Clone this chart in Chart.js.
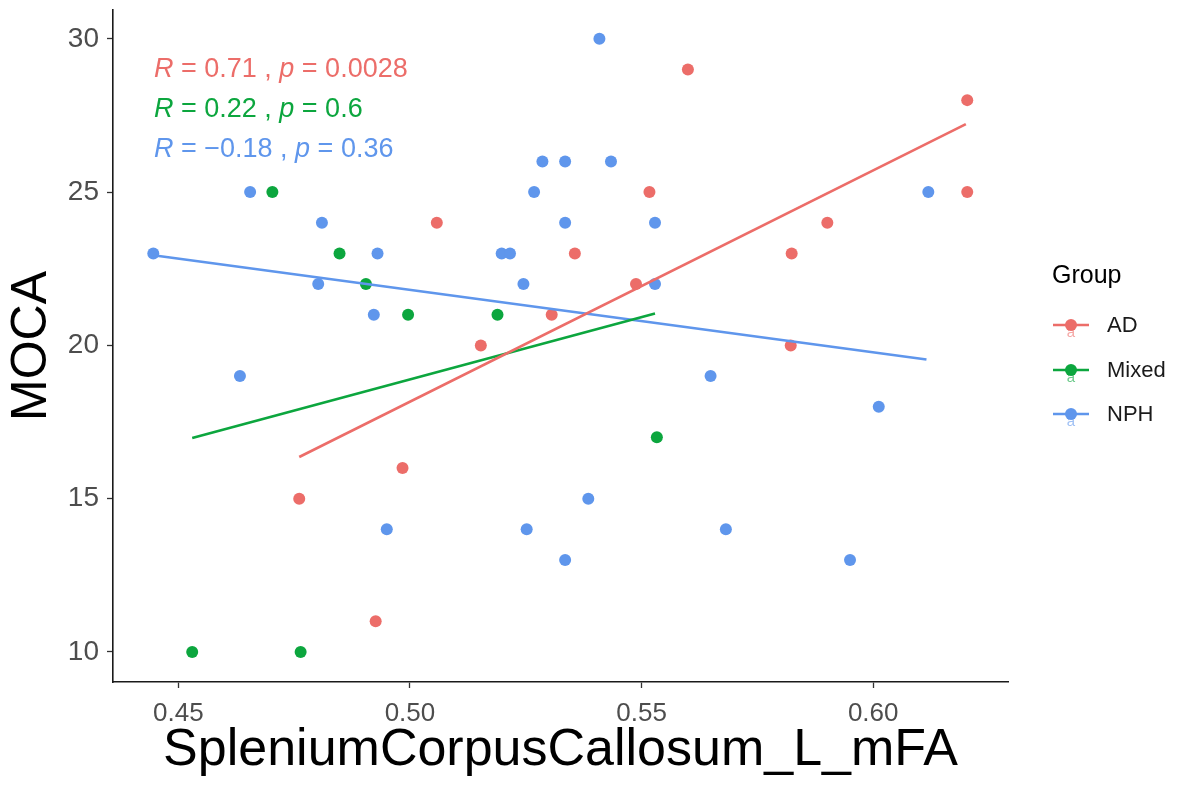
<!DOCTYPE html>
<html>
<head>
<meta charset="utf-8">
<script src="https://cdn.jsdelivr.net/npm/chart.js@4.4.1/dist/chart.umd.min.js"></script>
<style>
  body { margin: 0; background: #fff; }
  #wrap { width: 1177px; height: 788px; }
</style>
</head>
<body>
<div id="wrap"><canvas id="chart" width="1177" height="788"></canvas></div>
<script>
// MOCA score vs left splenium mFA, by diagnostic group
const groups = ["AD", "Mixed", "NPH"];
const groupColors = ["#EC6D69", "#0CA63E", "#5F96EC"];

const adX = [0.5058, 0.5306, 0.5153, 0.5600, 0.6203, 0.5517, 0.5356, 0.5488, 0.5824, 0.5901, 0.6203, 0.5822, 0.4984, 0.4761, 0.4926];
const adY = [24, 21, 20, 29, 28, 25, 23, 22, 23, 24, 25, 20, 16, 15, 11];

const mixedX = [0.4703, 0.4848, 0.4905, 0.4996, 0.5189, 0.5533, 0.4530, 0.4764];
const mixedY = [25, 23, 22, 21, 21, 17, 10, 10];

const nphX = [0.4446, 0.4655, 0.4810, 0.4930, 0.4802, 0.4922, 0.5198, 0.5216, 0.5245, 0.5268, 0.5286, 0.5335, 0.5434, 0.5409,
              0.5335, 0.5529, 0.5529, 0.6119, 0.4633, 0.4950, 0.5252, 0.5649, 0.6012, 0.5385, 0.5682, 0.5335, 0.5950];
const nphY = [23, 25, 24, 23, 22, 21, 23, 23, 22, 25, 26, 26, 26, 30,
              24, 24, 22, 25, 19, 14, 14, 19, 18, 15, 14, 13, 13];

// fitted lines (start / end of each group's lm fit)
const adFitX = [0.4761, 0.6200];
const adFitY = [16.36, 27.22];
const mixedFitX = [0.4530, 0.5529];
const mixedFitY = [16.98, 21.04];
const nphFitX = [0.4446, 0.6115];
const nphFitY = [22.94, 19.54];

const corrLabels = [
    ["0.71", "0.0028"],
    ["0.22", "0.6"],
    ["\u22120.18", "0.36"],
];

const xTicks = [0.45, 0.50, 0.55, 0.60];
const yTicks = [10, 15, 20, 25, 30];

const FONT = "'Liberation Sans', Arial, sans-serif";

function pts(xs, ys) {
    return xs.map((x, i) => ({ x: x, y: ys[i] }));
}

function scatterSet(label, xs, ys, color) {
    return {
        type: "scatter",
        label: label,
        data: pts(xs, ys),
        backgroundColor: color,
        borderColor: color,
        pointRadius: 6,
        pointBorderWidth: 0,
        order: 2,
    };
}

function fitSet(label, xs, ys, color) {
    return {
        type: "line",
        label: label + " fit",
        data: pts(xs, ys),
        borderColor: color,
        borderWidth: 2.6,
        pointRadius: 0,
        fill: false,
        order: 1,
    };
}

// R / p text in the top-left corner
const corrPlugin = {
    id: "corrText",
    afterDatasetsDraw(chart) {
        const ctx = chart.ctx;
        const x0 = 154;
        const baselines = [77, 117, 157];
        ctx.save();
        ctx.textBaseline = "alphabetic";
        corrLabels.forEach((lab, i) => {
            const parts = [
                ["R", true], [" = " + lab[0] + " , ", false],
                ["p", true], [" = " + lab[1], false],
            ];
            let x = x0;
            ctx.fillStyle = groupColors[i];
            parts.forEach(([t, it]) => {
                ctx.font = (it ? "italic " : "") + "27px " + FONT;
                ctx.fillText(t, x, baselines[i]);
                x += ctx.measureText(t).width;
            });
        });
        ctx.restore();
    },
};

// ggplot-style legend on the right
const legendPlugin = {
    id: "groupLegend",
    afterDraw(chart) {
        const ctx = chart.ctx;
        ctx.save();
        ctx.fillStyle = "#000";
        ctx.font = "25px " + FONT;
        ctx.textBaseline = "middle";
        ctx.fillText("Group", 1052, 276);
        const rows = [325, 370, 414];
        groups.forEach((g, i) => {
            const y = rows[i];
            const c = groupColors[i];
            ctx.strokeStyle = c;
            ctx.lineWidth = 2.6;
            ctx.beginPath();
            ctx.moveTo(1053, y);
            ctx.lineTo(1089, y);
            ctx.stroke();
            ctx.fillStyle = c;
            ctx.beginPath();
            ctx.arc(1071, y, 6, 0, Math.PI * 2);
            ctx.fill();
            ctx.globalAlpha = 0.6;
            ctx.font = "15px " + FONT;
            ctx.textAlign = "center";
            ctx.fillText("a", 1071, y + 8);
            ctx.globalAlpha = 1;
            ctx.textAlign = "left";
            ctx.fillStyle = "#1a1a1a";
            ctx.font = "22px " + FONT;
            ctx.fillText(g, 1107, y + 1);
        });
        ctx.restore();
    },
};

const axisTick = {
    display: true,
    drawOnChartArea: false,
    drawTicks: true,
    tickLength: 6,
    tickColor: "#333",
    tickWidth: 1.3,
};

new Chart(document.getElementById("chart").getContext("2d"), {
    data: {
        datasets: [
            fitSet("AD", adFitX, adFitY, groupColors[0]),
            fitSet("Mixed", mixedFitX, mixedFitY, groupColors[1]),
            fitSet("NPH", nphFitX, nphFitY, groupColors[2]),
            scatterSet("AD", adX, adY, groupColors[0]),
            scatterSet("Mixed", mixedX, mixedY, groupColors[1]),
            scatterSet("NPH", nphX, nphY, groupColors[2]),
        ],
    },
    options: {
        responsive: false,
        animation: false,
        events: [],
        layout: { padding: { top: 10, right: 169, left: 0, bottom: 0 } },
        plugins: {
            legend: { display: false },
            tooltip: { enabled: false },
        },
        scales: {
            x: {
                type: "linear",
                position: "bottom",
                min: 0.4359,
                max: 0.6291,
                afterFit: (s) => {
                    s.height = 106;
                    s.paddingLeft = 0;
                    s.paddingRight = 0;
                },
                afterBuildTicks: (s) => { s.ticks = xTicks.map((v) => ({ value: v })); },
                ticks: {
                    color: "#4D4D4D",
                    font: { family: FONT, size: 26 },
                    padding: 10,
                    maxRotation: 0,
                    callback: (v) => Number(v).toFixed(2),
                },
                grid: axisTick,
                border: { display: true, color: "#1a1a1a", width: 1.6 },
                title: {
                    display: true,
                    text: "SpleniumCorpusCallosum_L_mFA",
                    color: "#000",
                    font: { family: FONT, size: 52 },
                    padding: { top: 0, bottom: 6 },
                },
            },
            y: {
                type: "linear",
                min: 9.02,
                max: 30.94,
                afterFit: (s) => {
                    s.width = 113;
                    s.paddingTop = 0;
                    s.paddingBottom = 0;
                },
                afterBuildTicks: (s) => { s.ticks = yTicks.map((v) => ({ value: v })); },
                ticks: {
                    color: "#4D4D4D",
                    font: { family: FONT, size: 28 },
                    padding: 8,
                },
                grid: axisTick,
                border: { display: true, color: "#1a1a1a", width: 1.6 },
                title: {
                    display: true,
                    text: "MOCA",
                    color: "#000",
                    font: { family: FONT, size: 50 },
                    padding: { top: 2, bottom: 0 },
                },
            },
        },
    },
    plugins: [corrPlugin, legendPlugin],
});
</script>
</body>
</html>
